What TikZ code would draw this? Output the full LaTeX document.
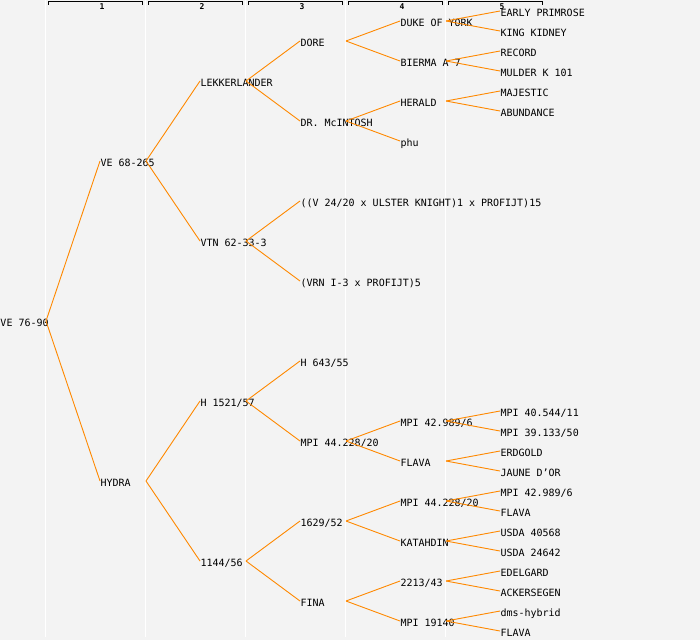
\documentclass[tikz,border=0pt]{standalone}
\usepackage{fontspec}
\newfontfamily\pedfont{DejaVu Sans Mono}
\definecolor{bgc}{RGB}{243,243,243}
\definecolor{edgec}{RGB}{255,136,0}
\begin{document}
\begin{tikzpicture}[x=1pt,y=-1pt,
  pn/.style={anchor=west,inner xsep=0.5pt,inner ysep=0pt,outer sep=0pt,
    text height=10pt,text depth=0pt,font=\pedfont\fontsize{10}{10}\selectfont},
  edge/.style={draw=edgec,line width=0.9pt},
  colline/.style={draw=white,line width=1pt},
  bracket/.style={draw=black,line width=1pt},
  collabel/.style={font=\pedfont\fontsize{8}{8}\selectfont\bfseries,inner sep=0pt}]
\fill[bgc] (0,0) rectangle (700,640);
\useasboundingbox (0,0) rectangle (700,640);
\foreach \x in {45,145,245,345,445} \draw[colline] (\x,0) -- (\x,637);
\foreach \i in {1,...,5} {
  \draw[bracket] ({100*\i-52},4.5) -- ({100*\i-52},1.5) -- ({100*\i+42},1.5) -- ({100*\i+42},4.5);
  \node[collabel] (lab\i) at ({100*\i+2},7) {\i};
}
% branch columns
\coordinate (k0) at (46,0);
\coordinate (k1) at (146,0);
\coordinate (k2) at (246,0);
\coordinate (k3) at (346,0);
\coordinate (k4) at (446,0);
% level 0
\node[pn] (n0) at (0,321) {VE 76-90};
% level 1
\node[pn] (a) at (100,161) {VE 68-265};
\node[pn] (b) at (100,481) {HYDRA};
% level 2
\node[pn] (aa) at (200,81) {LEKKERLANDER};
\node[pn] (ab) at (200,241) {VTN 62-33-3};
\node[pn] (ba) at (200,401) {H 1521/57};
\node[pn] (bb) at (200,561) {1144/56};
% level 3
\node[pn] (aaa) at (300,41) {DORE};
\node[pn] (aab) at (300,121) {DR. McINTOSH};
\node[pn] (aba) at (300,201) {((V 24/20 x ULSTER KNIGHT)1 x PROFIJT)15};
\node[pn] (abb) at (300,281) {(VRN I-3 x PROFIJT)5};
\node[pn] (baa) at (300,361) {H 643/55};
\node[pn] (bab) at (300,441) {MPI 44.228/20};
\node[pn] (bba) at (300,521) {1629/52};
\node[pn] (bbb) at (300,601) {FINA};
% level 4
\node[pn] (aaaa) at (400,21) {DUKE OF YORK};
\node[pn] (aaab) at (400,61) {BIERMA A 7};
\node[pn] (aaba) at (400,101) {HERALD};
\node[pn] (aabb) at (400,141) {phu};
\node[pn] (baba) at (400,421) {MPI 42.989/6};
\node[pn] (babb) at (400,461) {FLAVA};
\node[pn] (bbaa) at (400,501) {MPI 44.228/20};
\node[pn] (bbab) at (400,541) {KATAHDIN};
\node[pn] (bbba) at (400,581) {2213/43};
\node[pn] (bbbb) at (400,621) {MPI 19140};
% level 5
\node[pn] (e1) at (500,11) {EARLY PRIMROSE};
\node[pn] (e2) at (500,31) {KING KIDNEY};
\node[pn] (e3) at (500,51) {RECORD};
\node[pn] (e4) at (500,71) {MULDER K 101};
\node[pn] (e5) at (500,91) {MAJESTIC};
\node[pn] (e6) at (500,111) {ABUNDANCE};
\node[pn] (e7) at (500,411) {MPI 40.544/11};
\node[pn] (e8) at (500,431) {MPI 39.133/50};
\node[pn] (e9) at (500,451) {ERDGOLD};
\node[pn] (e10) at (500,471) {JAUNE D’OR};
\node[pn] (e11) at (500,491) {MPI 42.989/6};
\node[pn] (e12) at (500,511) {FLAVA};
\node[pn] (e13) at (500,531) {USDA 40568};
\node[pn] (e14) at (500,551) {USDA 24642};
\node[pn] (e15) at (500,571) {EDELGARD};
\node[pn] (e16) at (500,591) {ACKERSEGEN};
\node[pn] (e17) at (500,611) {dms-hybrid};
\node[pn] (e18) at (500,631) {FLAVA};
% connectors
\draw[edge] (n0.west -| k0) -- (a.west);
\draw[edge] (n0.west -| k0) -- (b.west);
\draw[edge] (a.west -| k1) -- (aa.west);
\draw[edge] (a.west -| k1) -- (ab.west);
\draw[edge] (b.west -| k1) -- (ba.west);
\draw[edge] (b.west -| k1) -- (bb.west);
\draw[edge] (aa.west -| k2) -- (aaa.west);
\draw[edge] (aa.west -| k2) -- (aab.west);
\draw[edge] (ab.west -| k2) -- (aba.west);
\draw[edge] (ab.west -| k2) -- (abb.west);
\draw[edge] (ba.west -| k2) -- (baa.west);
\draw[edge] (ba.west -| k2) -- (bab.west);
\draw[edge] (bb.west -| k2) -- (bba.west);
\draw[edge] (bb.west -| k2) -- (bbb.west);
\draw[edge] (aaa.west -| k3) -- (aaaa.west);
\draw[edge] (aaa.west -| k3) -- (aaab.west);
\draw[edge] (aab.west -| k3) -- (aaba.west);
\draw[edge] (aab.west -| k3) -- (aabb.west);
\draw[edge] (bab.west -| k3) -- (baba.west);
\draw[edge] (bab.west -| k3) -- (babb.west);
\draw[edge] (bba.west -| k3) -- (bbaa.west);
\draw[edge] (bba.west -| k3) -- (bbab.west);
\draw[edge] (bbb.west -| k3) -- (bbba.west);
\draw[edge] (bbb.west -| k3) -- (bbbb.west);
\draw[edge] (aaaa.west -| k4) -- (e1.west);
\draw[edge] (aaaa.west -| k4) -- (e2.west);
\draw[edge] (aaab.west -| k4) -- (e3.west);
\draw[edge] (aaab.west -| k4) -- (e4.west);
\draw[edge] (aaba.west -| k4) -- (e5.west);
\draw[edge] (aaba.west -| k4) -- (e6.west);
\draw[edge] (baba.west -| k4) -- (e7.west);
\draw[edge] (baba.west -| k4) -- (e8.west);
\draw[edge] (babb.west -| k4) -- (e9.west);
\draw[edge] (babb.west -| k4) -- (e10.west);
\draw[edge] (bbaa.west -| k4) -- (e11.west);
\draw[edge] (bbaa.west -| k4) -- (e12.west);
\draw[edge] (bbab.west -| k4) -- (e13.west);
\draw[edge] (bbab.west -| k4) -- (e14.west);
\draw[edge] (bbba.west -| k4) -- (e15.west);
\draw[edge] (bbba.west -| k4) -- (e16.west);
\draw[edge] (bbbb.west -| k4) -- (e17.west);
\draw[edge] (bbbb.west -| k4) -- (e18.west);
\end{tikzpicture}
\end{document}
